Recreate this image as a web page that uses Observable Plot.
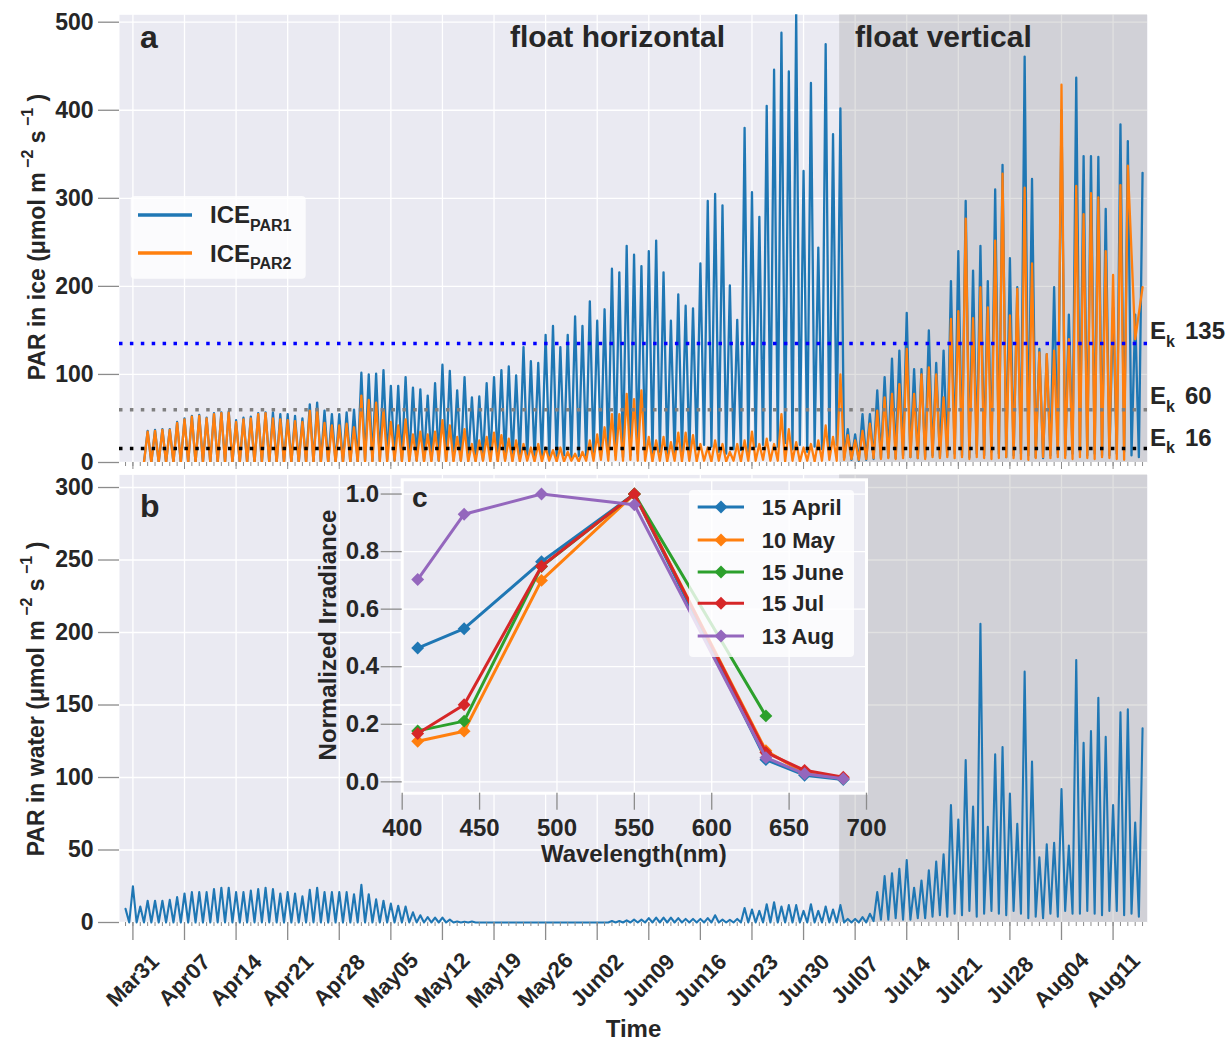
<!DOCTYPE html>
<html><head><meta charset="utf-8">
<script src="https://cdn.jsdelivr.net/npm/d3@7"></script>
<script src="https://cdn.jsdelivr.net/npm/@observablehq/plot@0.6"></script>
<style>
body{margin:0;background:#fff;}
#wrap{position:relative;width:1232px;height:1040px;overflow:hidden;}
#wrap svg{position:absolute;}
</style></head><body><div id="wrap"></div>
<script>
// ---------------- DATA ----------------
const firstDate = "2019-03-31";             // day 0
const weekTickLabels = ["Mar31","Apr07","Apr14","Apr21","Apr28","May05","May12","May19","May26","Jun02","Jun09","Jun16","Jun23","Jun30","Jul07","Jul14","Jul21","Jul28","Aug04","Aug11"];
const iceTicks = [0,100,200,300,400,500];
const waterTicks = [0,50,100,150,200,250,300];
const ekValues = [135, 60, 16];
const ekLabels = ["135", "60", "16"];
const verticalStartDay = 95.9;             // float turned vertical
// ICE PAR: daily peak (at day d) and the low before it (at d-0.5), days 2..137
const iceFirstDay = 2;
const par1Peak = [36,37,38,38,46,50,53,54,51,56,57,58,48,51,52,56,57,57,55,55,53,50,66,68,59,55,55,57,60,102,100,101,
 105,87,87,97,85,83,76,90,111,104,82,97,74,75,90,97,105,109,99,131,115,113,145,155,131,145,166,155,183,161,174,220,216,246,236,223,240,252,216,161,191,178,175,226,297,305,292,201,162,380,307,279,405,446,488,444,510,331,431,244,475,373,402,
 38,32,55,55,82,97,118,127,170,106,106,150,113,127,206,240,297,218,246,206,310,338,232,199,461,322,129,123,199,400,168,437,348,348,347,288,176,384,365,168,329];
const par1Low = [0,0,0,0,0,0,0,0,0,0,0,0,0,0,0,0,0,0,0,0,0,0,0,0,0,0,0,0,0,0,2,2,
 2,3,2,2,3,2,2,3,2,2,3,2,3,2,3,4,3,4,3,5,4,6,5,6,5,8,6,7,6,8,7,9,8,6,8,10,8,10,12,8,10,12,9,15,20,18,12,10,15,14,12,18,20,25,18,22,15,20,12,18,15,12,20,
 5,3,2,3,4,5,6,5,8,6,5,6,8,6,8,10,8,6,10,8,12,10,6,8,10,8,6,5,8,10,8,10,12,8,10,8,8,10,12,8,6];
const par2Peak = [35,36,37,37,45,49,52,53,50,55,56,57,46,49,50,55,56,50,49,48,47,46,59,61,45,42,42,44,40,76,71,68,
 60,46,42,49,32,35,32,35,48,42,29,38,21,25,29,34,31,27,25,21,17,21,17,14,17,12,10,12,25,32,40,55,55,78,72,82,29,25,29,23,34,34,31,21,17,25,21,12,21,25,35,21,27,21,55,38,23,17,21,25,42,29,100,
 31,25,36,44,59,74,78,89,129,78,100,108,100,74,163,172,277,164,199,176,252,328,167,197,312,226,125,123,127,429,140,314,282,306,301,240,213,315,337,140,199];
const par2Low = [0,0,0,0,0,0,0,0,0,0,0,0,0,0,0,0,0,0,0,0,0,0,0,0,0,0,0,0,0,0,1,1,
 1,1,2,1,1,2,1,1,2,1,1,2,1,1,2,1,1,2,1,1,2,1,1,2,1,1,2,1,2,2,3,2,3,2,3,2,2,1,2,1,2,1,2,1,2,1,2,1,2,1,2,2,3,2,2,1,2,1,2,1,2,
 3,2,3,4,3,4,5,4,5,4,5,6,5,4,6,5,6,5,6,4,6,5,4,5,6,5,4,3,5,6,5,6,5,4,6,5,4,6,5,4,3];
// Water PAR: days -1..137
const waterFirstDay = -1;
const waterPeak = [9.4,25,11,15,15,15,15.6,17.5,20,21,21,21,23,24,24,21,21,22,23,24,23,20,21,20,18,22.5,24,21,21,21,21,19.5,26,19.5,16,15,13,11.5,11,7,
 5,3.7,3.4,3.4,2,0.7,0.5,0.7,
 0,0,0,0,0,0,0,0,0,0,0,0,0,0,0,0,0,0,
 1,1,1.5,2,2,3,3.4,3.4,3.4,3,2.5,2.5,2.5,3,5,2,1.8,2.5,10,9,8,12.6,14,11,12,12,8,12.6,8,11,9,12,2.5,
 2.5,3.7,6,21,32,34,37,43,24,29,36,42,47,81,71,112,80,206,66,116,121,89,68,173,111,45,54,55,92,53,181,124,132,155,128,81,145,147,69,134];
const waterLow = [null,0,0,0,0,0,0,0,0,0,0,0,0,0,0,0,0,0,0,0,0,0,0,0,0,0,0,0,0,0,0,0,0,0,0,0,0,0,0,0,
 0,0,0,0,0,0,0,0,0,0,0,0,0,0,0,0,0,0,0,0,0,0,0,0,0,0,0,0,0,0,0,0,0,0,0,0,0,0,0,0,
 0,0,0,0,0,0,0,0,0,0,0,0,0,0,0,0,0,0,0,0,0,0,
 1,2,2,3,2,2,3,3,4,5,4,6,5,8,4,6,8,6,5,8,6,3,4,3,6,4,8,6,6,8,6,5,8,8,5,6,4];
// Inset c
const wavelengths = [410, 440, 490, 550, 635, 660, 685];
const spectraNames = ["15 April", "10 May", "15 June", "15 Jul", "13 Aug"];
const apr15 = [0.465, 0.532, 0.765, 1.0, 0.077, 0.023, 0.008];
const may10 = [0.141, 0.176, 0.700, 1.0, 0.108, 0.030, 0.012];
const jun15 = [0.177, 0.211, 0.748, 1.0, 0.229];
const jul15 = [0.168, 0.268, 0.749, 1.0, 0.102, 0.040, 0.016];
const aug13 = [0.703, 0.930, 1.0, 0.963, 0.084, 0.028, 0.011];
const waveTicks = [400, 450, 500, 550, 600, 650, 700];
const irrTicks = [0, 0.2, 0.4, 0.6, 0.8, 1.0];

// ---------------- BUILD ----------------
const t0 = Date.parse(firstDate + "T00:00:00Z");
const dayToDate = d => new Date(t0 + d * 864e5);
function cycleRows(firstDay, peaks, lows) {
  const rows = [];
  peaks.forEach((p, i) => {
    const d = firstDay + i;
    if (lows[i] != null) rows.push({t: dayToDate(d - 0.5), v: lows[i]});
    rows.push({t: dayToDate(d), v: p});
  });
  return rows;
}
const par1Rows = cycleRows(iceFirstDay, par1Peak, par1Low);
const par2Rows = cycleRows(iceFirstDay, par2Peak, par2Low);
const waterRows = cycleRows(waterFirstDay, waterPeak, waterLow);
const xDomain = [dayToDate(-1.82), dayToDate(137.67)];
const weekDates = weekTickLabels.map((_, i) => dayToDate(7 * i));
const minorDates = d3.utcDay.range(xDomain[0], xDomain[1]);
const shade = [{start: dayToDate(verticalStartDay), end: xDomain[1]}];
const spectraVals = [apr15, may10, jun15, jul15, aug13];
const spectra = spectraNames.flatMap((name, k) => spectraVals[k].map((v, j) => ({name, wl: wavelengths[j], v})));

const FONT = "'Liberation Sans', Arial, Helvetica, sans-serif";
const INK = "#262626", TICK = "#8c8c8c", BG = "#eaeaf2";
const C = ["#1f77b4", "#ff7f0e", "#2ca02c", "#d62728", "#9467bd"];
const ekColors = ["#0000ff", "#808080", "#000000"];
const baseStyle = {fontFamily: FONT, fontWeight: "bold", color: INK, background: "transparent", overflow: "visible"};
const grid = {stroke: "white", strokeOpacity: 1, strokeWidth: 1.3};
const wrap = document.getElementById("wrap");

// Panel a
const svgA = Plot.plot({
  width: 1232, height: 472, marginLeft: 119, marginRight: 85, marginTop: 14.3, marginBottom: 10,
  style: baseStyle,
  x: {type: "utc", domain: xDomain},
  y: {domain: [0, 508.4]},
  marks: [
    Plot.frame({fill: BG, stroke: "none"}),
    Plot.gridX({ticks: weekDates, ...grid}),
    Plot.gridY({ticks: iceTicks, ...grid}),
    Plot.rect(shade, {x1: "start", x2: "end", fill: "#7f7f7f", fillOpacity: 0.23}),
    Plot.line(par1Rows, {x: "t", y: "v", stroke: C[0], strokeWidth: 2.3, clip: true}),
    Plot.line(par2Rows, {x: "t", y: "v", stroke: C[1], strokeWidth: 2.3, clip: true}),
    ...ekValues.map((v, i) => Plot.ruleY([v], {stroke: ekColors[i], strokeWidth: 3.5, strokeDasharray: "3.5,7.4"})),
    Plot.axisY({ticks: iceTicks, tickSize: 21, tickPadding: 5, stroke: TICK, strokeWidth: 1.3, fill: INK, fontSize: 23, fontWeight: "bold", label: null}),
    Plot.axisX({ticks: minorDates, tickSize: 4, tickFormat: () => "", stroke: TICK, label: null}),
    Plot.axisX({ticks: weekDates, tickSize: 7, tickFormat: () => "", stroke: TICK, label: null})
  ]
});
svgA.style.left = "0px"; svgA.style.top = "0px";
wrap.appendChild(svgA);

// Panel b
const svgB = Plot.plot({
  width: 1232, height: 568, marginLeft: 119, marginRight: 85, marginTop: 2.4, marginBottom: 118,
  style: baseStyle,
  x: {type: "utc", domain: xDomain},
  y: {domain: [0, 308.7]},
  marks: [
    Plot.frame({fill: BG, stroke: "none"}),
    Plot.gridX({ticks: weekDates, ...grid}),
    Plot.gridY({ticks: waterTicks, ...grid}),
    Plot.rect(shade, {x1: "start", x2: "end", fill: "#7f7f7f", fillOpacity: 0.23}),
    Plot.line(waterRows, {x: "t", y: "v", stroke: C[0], strokeWidth: 2.1}),
    Plot.axisY({ticks: waterTicks, tickSize: 21, tickPadding: 5, stroke: TICK, strokeWidth: 1.3, fill: INK, fontSize: 23, fontWeight: "bold", label: null}),
    Plot.axisX({ticks: minorDates, tickSize: 4, tickFormat: () => "", stroke: TICK, label: null}),
    Plot.axisX({ticks: weekDates, tickSize: 18, tickFormat: () => "", stroke: TICK, strokeWidth: 1.3, label: null}),
    Plot.text(weekDates, {x: d => d, text: (d, i) => weekTickLabels[i], frameAnchor: "bottom", dy: 58, rotate: -45,
      textAnchor: "middle", lineAnchor: "middle", fontSize: 22, fontWeight: "bold", fill: INK})
  ]
});
svgB.style.left = "0px"; svgB.style.top = "472px";
wrap.appendChild(svgB);

// Inset c
const svgC = Plot.plot({
  width: 580, height: 400, marginLeft: 101.7, marginRight: 14, marginTop: 9.3, marginBottom: 77.3,
  style: baseStyle,
  x: {domain: [400, 700]},
  y: {domain: [-0.0395, 1.0495]},
  marks: [
    Plot.frame({fill: BG, stroke: "none"}),
    Plot.gridX({ticks: waveTicks, ...grid}),
    Plot.gridY({ticks: irrTicks, ...grid}),
    ...spectraNames.flatMap((name, k) => [
      Plot.line(spectra.filter(d => d.name === name), {x: "wl", y: "v", stroke: C[k], strokeWidth: 3, strokeLinejoin: "round"}),
      Plot.dot(spectra.filter(d => d.name === name), {x: "wl", y: "v", fill: C[k], symbol: "diamond2", r: 5.8, stroke: "none"})
    ]),
    Plot.frame({stroke: "white", strokeWidth: 3}),
    Plot.axisY({ticks: irrTicks, tickFormat: d3.format(".1f"), tickSize: 21, tickPadding: 2, stroke: TICK, strokeWidth: 1.3, fill: INK, fontSize: 24, fontWeight: "bold", label: null}),
    Plot.axisX({ticks: waveTicks, tickSize: 17, tickPadding: 9, stroke: TICK, strokeWidth: 1.3, fill: INK, fontSize: 24, fontWeight: "bold", label: null})
  ]
});
svgC.style.left = "300px"; svgC.style.top = "470px";
wrap.appendChild(svgC);

// Overlay: labels, legends, annotations
const ov = d3.select(wrap).append("svg").attr("width", 1232).attr("height", 1040)
  .style("left", "0px").style("top", "0px")
  .attr("font-family", FONT).attr("font-weight", "bold").attr("fill", INK);
function rich(x, y, parts, attrs = {}) {
  const t = ov.append("text").attr("x", x).attr("y", y);
  Object.entries(attrs).forEach(([k, v]) => t.attr(k, v));
  parts.forEach(p => {
    const s = t.append("tspan").text(p.t).attr("font-size", p.s);
    if (p.dy) s.attr("dy", p.dy);
    if (p.x != null) s.attr("x", p.x);
  });
  return t;
}
function unitLabel(cx, cy, head) {
  rich(0, 0, [
    {t: head + " (μmol m", s: 23},
    {t: " −2", s: 16, dy: -12},
    {t: " s", s: 23, dy: 12},
    {t: " −1", s: 16, dy: -12},
    {t: " )", s: 23, dy: 12}
  ], {transform: `translate(${cx},${cy}) rotate(-90)`, "text-anchor": "middle"});
}
unitLabel(45, 237, "PAR in ice");
unitLabel(44, 699, "PAR in water");

rich(140, 48.3, [{t: "a", s: 32}]);
rich(140, 517, [{t: "b", s: 32}]);
rich(412, 506.7, [{t: "c", s: 28}]);
rich(510, 47.3, [{t: "float horizontal", s: 30}]);
rich(855, 47.3, [{t: "float vertical", s: 30}]);

// E_k labels
[339.3, 404.3, 445.7].forEach((y, i) => {
  rich(1150, y, [{t: "E", s: 24}, {t: "k", s: 16, dy: 7.4}, {t: ekLabels[i], s: 24, dy: -7.4, x: 1185}]);
});

// Legend panel a
ov.append("rect").attr("x", 130.7).attr("y", 196).attr("width", 175).attr("height", 82.7).attr("rx", 4)
  .attr("fill", "rgba(255,255,255,0.8)");
[["PAR1", 215, 223.3], ["PAR2", 253, 261.7]].forEach(([sub, ly, by], i) => {
  ov.append("line").attr("x1", 138).attr("x2", 192).attr("y1", ly).attr("y2", ly)
    .attr("stroke", C[i]).attr("stroke-width", 3.3);
  rich(210, by, [{t: "ICE", s: 24}, {t: sub, s: 16, dy: 7.7}]);
});

// Inset legend
ov.append("rect").attr("x", 689).attr("y", 490).attr("width", 165).attr("height", 167).attr("rx", 4)
  .attr("fill", "rgba(255,255,255,0.8)");
[507, 540, 572, 603.3, 636].forEach((y, k) => {
  ov.append("line").attr("x1", 697.7).attr("x2", 744).attr("y1", y).attr("y2", y)
    .attr("stroke", C[k]).attr("stroke-width", 3);
  ov.append("path").attr("d", `M721,${y - 6.5}L727.5,${y}L721,${y + 6.5}L714.5,${y}Z`).attr("fill", C[k]);
  rich(761.7, y + 8, [{t: spectraNames[k], s: 22}]);
});

rich(0, 0, [{t: "Normalized Irradiance", s: 24}], {transform: "translate(336,635) rotate(-90)", "text-anchor": "middle"});
rich(633.8, 862, [{t: "Wavelength(nm)", s: 24}], {"text-anchor": "middle"});
rich(633.5, 1036.5, [{t: "Time", s: 24}], {"text-anchor": "middle"});
</script>
</body></html>
